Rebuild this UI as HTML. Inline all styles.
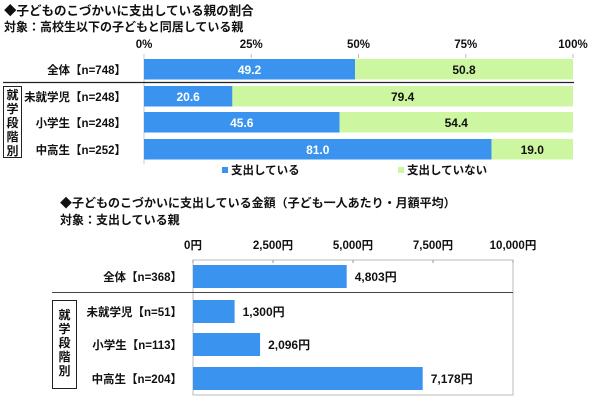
<!DOCTYPE html>
<html><head><meta charset="utf-8"><style>
body{margin:0;background:#fff;width:600px;height:408px;overflow:hidden}
svg text{font-family:"Liberation Sans","Noto Sans CJK JP",sans-serif;font-weight:bold}
</style></head><body>
<svg id="c" width="600" height="408" xmlns="http://www.w3.org/2000/svg">
<text x="4" y="15" font-size="12.5" fill="#111">◆子どものこづかいに支出している親の割合</text>
<text x="4" y="31" font-size="12" fill="#111">対象：高校生以下の子どもと同居している親</text>
<text x="60" y="207" font-size="12" fill="#111">◆子どものこづかいに支出している金額（子ども一人あたり・月額平均）</text>
<text x="60" y="224" font-size="12" fill="#111">対象：支出している親</text>
<g id="g1"></g><g id="g2"></g>
</svg>
<script>
const NS="http://www.w3.org/2000/svg";
const cats1=["全体【n=748】","未就学児【n=248】","小学生【n=248】","中高生【n=252】"];
const spend=[49.2,20.6,45.6,81.0];
const nospend=[50.8,79.4,54.4,19.0];
const ticks1=["0%","25%","50%","75%","100%"];
const tickVals1=[0,25,50,75,100];
const cats2=["全体【n=368】","未就学児【n=51】","小学生【n=113】","中高生【n=204】"];
const amounts=[4803,1300,2096,7178];
const amountLabels=["4,803円","1,300円","2,096円","7,178円"];
const ticks2=["0円","2,500円","5,000円","7,500円","10,000円"];
const tickVals2=[0,2500,5000,7500,10000];
function mk(p,t,a,txt){const e=document.createElementNS(NS,t);for(const k in a)e.setAttribute(k,a[k]);if(txt!=null)e.textContent=txt;p.appendChild(e);return e;}
// chart1
const g1=document.getElementById('g1');
const x1=v=>144+v*4.29;
const rowY1=[59,86,112,139],bh1=20.5;
tickVals1.forEach((v,i)=>{
 const t=mk(g1,'text',{x:x1(v),y:48,'font-size':11.5,'text-anchor':'middle',fill:'#111'},ticks1[i]);
 
 mk(g1,'line',{x1:x1(v),x2:x1(v),y1:54,y2:58,stroke:'#bbb'});
});
mk(g1,'line',{x1:144,x2:144,y1:54,y2:164,stroke:'#ccc'});
cats1.forEach((c,i)=>{
 const y=rowY1[i];
 const l=mk(g1,'text',{x:126,y:y+bh1/2+4.5,'font-size':11.5,'text-anchor':'end',fill:'#111'},c);
 
 const b=mk(g1,'rect',{x:x1(0),y:y,width:x1(spend[i])-x1(0),height:bh1,fill:'#3a93ef'});
 
 const b2=mk(g1,'rect',{x:x1(spend[i]),y:y,width:x1(spend[i]+nospend[i])-x1(spend[i]),height:bh1,fill:'#ccf7a0'});
 
 const v1=mk(g1,'text',{x:(x1(0)+x1(spend[i]))/2,y:y+bh1/2+4.5,'font-size':12,'text-anchor':'middle',fill:'#fff','font-weight':'normal'},spend[i].toFixed(1));
 
 const v2=mk(g1,'text',{x:(x1(spend[i])+x1(100))/2,y:y+bh1/2+4.5,'font-size':12,'text-anchor':'middle',fill:'#111'},nospend[i].toFixed(1));
 
});
mk(g1,'line',{x1:3,x2:574,y1:82.5,y2:82.5,stroke:'#222','stroke-width':1.2});
const bx1=mk(g1,'rect',{x:3.5,y:86.5,width:18,height:71,fill:'none',stroke:'#222'});

"就学段階別".split('').forEach((ch,i)=>mk(g1,'text',{x:12.5,y:99+i*14,'font-size':12,'text-anchor':'middle',fill:'#111'},ch));
const lg1=mk(g1,'rect',{x:222,y:167,width:6,height:6,fill:'#3a93ef'});
const lt1=mk(g1,'text',{x:231,y:174,'font-size':11.5,fill:'#111'},'支出している');
const lg2=mk(g1,'rect',{x:398,y:167,width:6,height:6,fill:'#ccf7a0'});
const lt2=mk(g1,'text',{x:407,y:174,'font-size':11.5,fill:'#111'},'支出していない');
// chart2
const g2=document.getElementById('g2');
const x2=v=>193+v*0.032;
const rowY2=[265,300,333,367],bh2=23;
mk(g2,'rect',{x:193,y:260,width:320,height:135,fill:'none',stroke:'#bbb'});
tickVals2.forEach((v,i)=>{
 const t=mk(g2,'text',{x:x2(v),y:249,'font-size':11.5,'text-anchor':'middle',fill:'#111'},ticks2[i]);
 
 mk(g2,'line',{x1:x2(v),x2:x2(v),y1:260,y2:263,stroke:'#999'});
});
cats2.forEach((c,i)=>{
 const y=rowY2[i];
 const l=mk(g2,'text',{x:182,y:y+bh2/2+4.5,'font-size':11.5,'text-anchor':'end',fill:'#111'},c);
 
 const b=mk(g2,'rect',{x:x2(0),y:y,width:x2(amounts[i])-x2(0),height:bh2,fill:'#3a93ef'});
 
 const v=mk(g2,'text',{x:x2(amounts[i])+8,y:y+bh2/2+4.5,'font-size':12,fill:'#111','font-weight':'normal'},amountLabels[i]);
 
});
mk(g2,'line',{x1:52,x2:513,y1:292.5,y2:292.5,stroke:'#444','stroke-width':1});
const bx2=mk(g2,'rect',{x:52.5,y:300.5,width:24,height:88,fill:'none',stroke:'#222'});

"就学段階別".split('').forEach((ch,i)=>mk(g2,'text',{x:64.5,y:319+i*14,'font-size':12,'text-anchor':'middle',fill:'#111'},ch));
</script>
</body></html>
